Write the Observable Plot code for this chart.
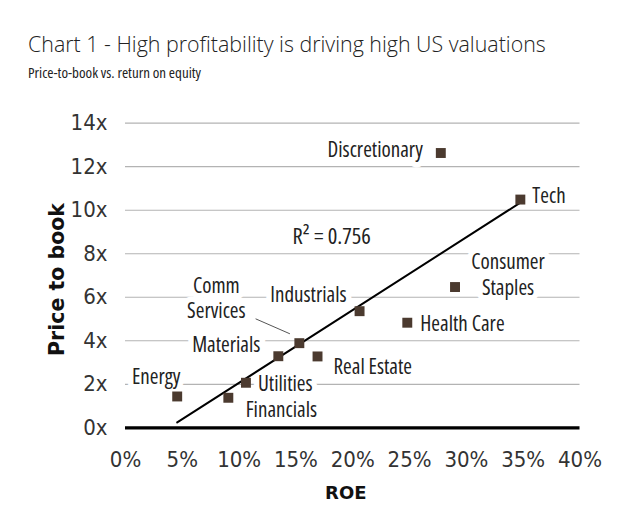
<!DOCTYPE html>
<html>
<head>
<meta charset="utf-8">
<script src="https://cdn.jsdelivr.net/npm/d3@7"></script>
<script src="https://cdn.jsdelivr.net/npm/@observablehq/plot@0.6"></script>
<style>
  body { margin: 0; background: #fff; }
  #wrap { position: relative; width: 630px; height: 514px; overflow: hidden; }
  #title { position: absolute; left: 28px; top: 30px; font-size: 21.4px; color: #222; white-space: nowrap;
           font-family: "Open Sans", sans-serif; font-weight: 300; font-stretch: 100%; line-height: 28px; }
  #sub { position: absolute; left: 28px; top: 62px; font-size: 15px; color: #222; white-space: nowrap;
         font-family: "Open Sans", sans-serif; font-stretch: 75%; line-height: 20px; }
  #chart { position: absolute; left: 0; top: 0; }
  g[font-family*="Open Sans"] { font-stretch: 75%; }
  g[font-family="DejaVu Sans"] { font-stretch: 100%; }
</style>
</head>
<body>
<div id="wrap">
  <div id="chart"></div>
  <div id="title">Chart 1 - High profitability is driving high US valuations</div>
  <div id="sub">Price-to-book vs. return on equity</div>
</div>
<script>
// ---- data ----
const sectors = ["Energy", "Financials", "Utilities", "Materials", "Comm Services", "Real Estate",
                 "Industrials", "Health Care", "Consumer Staples", "Discretionary", "Tech"];
const sectorLabels = ["Energy", "Financials", "Utilities", "Materials", "Comm\nServices", "Real Estate",
                      "Industrials", "Health Care", "Consumer\nStaples", "Discretionary", "Tech"];
const roe = [4.55, 9.05, 10.6, 13.45, 15.3, 16.9, 20.6, 24.8, 29.0, 27.75, 34.75];
const priceToBook = [1.44, 1.38, 2.07, 3.29, 3.89, 3.28, 5.36, 4.83, 6.47, 12.63, 10.49];
const xTicks = [0, 5, 10, 15, 20, 25, 30, 35, 40];
const yTicks = [0, 2, 4, 6, 8, 10, 12, 14];
const rSquaredText = "R² = 0.756";
const rSquaredAt = {roe: 18.15, pb: 8.77};
const xTitle = "ROE";
const yTitle = "Price to book";

const points = sectors.map((s, i) => ({sector: s, label: sectorLabels[i], roe: roe[i], pb: priceToBook[i]}));

// label placement (pixel offsets from each point)
const labelLayout = {
  "Energy":           {dx: -21, dy: -21, anchor: "middle"},
  "Financials":       {dx: 53,  dy: 11,  anchor: "middle"},
  "Utilities":        {dx: 12,  dy: 0,   anchor: "start"},
  "Materials":        {dx: -18, dy: -12, anchor: "end"},
  "Comm Services":    {dx: -83, dy: -46, anchor: "middle"},
  "Real Estate":      {dx: 16,  dy: 9,   anchor: "start"},
  "Industrials":      {dx: -13, dy: -17, anchor: "end"},
  "Health Care":      {dx: 13,  dy: 0,   anchor: "start"},
  "Consumer Staples": {dx: 53,  dy: -13, anchor: "middle"},
  "Discretionary":    {dx: -18, dy: -4,  anchor: "end"},
  "Tech":             {dx: 12,  dy: -5,  anchor: "start"}
};

const font = '"DejaVu Sans Condensed", sans-serif';
const labelFont = '"Open Sans", sans-serif';
const textColor = "#222";
const halo = {stroke: "white", strokeWidth: 11, paintOrder: "stroke", strokeLinejoin: "round"};

const labelMarks = points.map(p => {
  const L = labelLayout[p.sector];
  return Plot.text([p], {
    x: "roe", y: "pb", text: "label", dx: L.dx, dy: L.dy, textAnchor: L.anchor,
    fontFamily: labelFont, fontSize: 21, fill: textColor, lineHeight: 1.22, ...halo
  });
});

const comm = points.filter(p => p.sector === "Comm Services");

const chart = Plot.plot({
  width: 630,
  height: 514,
  marginLeft: 125,
  marginRight: 50.5,
  marginTop: 122.7,
  marginBottom: 86.7,
  style: {fontFamily: font, fontSize: "22px", color: "#333", background: "white"},
  x: {domain: [0, 40]},
  y: {domain: [0, 14]},
  marks: [
    Plot.ruleY(yTicks.filter(v => v > 0), {stroke: "#b3b3b3", strokeWidth: 1.2}),
    Plot.axisX({ticks: xTicks, tickSize: 0, tickPadding: 24, tickFormat: d => d + "%", label: null, fontSize: 22}),
    Plot.axisY({ticks: yTicks, tickSize: 0, tickPadding: 18, tickFormat: d => d + "x", label: null, fontSize: 22}),
    Plot.text([rSquaredText], {x: () => rSquaredAt.roe, y: () => rSquaredAt.pb, text: d => d,
      fontFamily: labelFont, fontSize: 22.5, fill: textColor}),
    ...labelMarks,
    Plot.link(comm, {
      x1: d => d.roe - 3.85, y1: d => d.pb + 1.12,
      x2: d => d.roe - 0.83, y2: d => d.pb + 0.43,
      stroke: "#555", strokeWidth: 1
    }),
    Plot.ruleY([0], {stroke: "black", strokeWidth: 3.3}),
    Plot.linearRegressionY(points, {x: "roe", y: "pb", stroke: "black", strokeWidth: 2, ci: 0}),
    Plot.dot(points, {x: "roe", y: "pb", symbol: "square", r: 5.6, fill: "#4b3a2f", stroke: "none"}),
    Plot.text([yTitle], {frameAnchor: "left", textAnchor: "middle", text: d => d, rotate: -90, dx: -68, dy: 4,
      fontFamily: "DejaVu Sans", fontWeight: "bold", fontSize: 20.5, fill: "#111"}),
    Plot.text([xTitle], {frameAnchor: "bottom", text: d => d, dx: -7, dy: 71,
      fontFamily: "DejaVu Sans", fontWeight: "bold", fontSize: 18, fill: "#111"})
  ]
});
document.getElementById("chart").appendChild(chart);
</script>
</body>
</html>
